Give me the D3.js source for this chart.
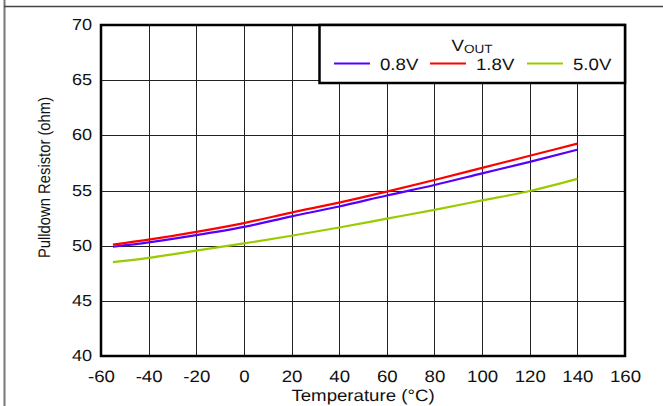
<!DOCTYPE html>
<html><head><meta charset="utf-8">
<script src="https://cdn.jsdelivr.net/npm/d3@7"></script>
<style>
body{margin:0;background:#fff;}
svg{display:block;font-family:"Liberation Sans",Arial,sans-serif;}
svg text{text-rendering:geometricPrecision;font-weight:400;}
</style></head>
<body><svg id="c" width="663" height="406"></svg>
<script>
const temps = [-55,-40,-20,0,20,40,60,80,100,120,140];
const v08 = [49.9,50.3,50.95,51.7,52.65,53.55,54.55,55.5,56.55,57.6,58.7];
const v18 = [50.1,50.55,51.25,52.05,53.0,53.9,54.9,55.95,57.05,58.15,59.25];
const v50 = [48.5,48.9,49.55,50.2,50.9,51.65,52.45,53.25,54.1,54.95,56.05];
const seriesNames = ["0.8V","1.8V","5.0V"];
const seriesColors = ["#5500ff","#ff0000","#99cc00"];
const xTicks = [-60,-40,-20,0,20,40,60,80,100,120,140,160];
const yTicks = [40,45,50,55,60,65,70];

const svg = d3.select("#c");
const L=101,R=625,T=25,B=356;
const SX=1.13;
const x = d3.scaleLinear().domain([-60,160]).range([L,R]);
const y = d3.scaleLinear().domain([40,70]).range([B,T]);

// outer frame
svg.append("line").attr("x1",4.5).attr("x2",4.5).attr("y1",0).attr("y2",406).attr("stroke","#777").attr("stroke-width",2);
svg.append("line").attr("x1",4).attr("x2",663).attr("y1",6.5).attr("y2",6.5).attr("stroke","#444").attr("stroke-width",1.5);

// grid
const g = svg.append("g");
g.selectAll(".vx").data(xTicks).enter().append("line")
  .attr("x1",d=>Math.round(x(d))+0.5).attr("x2",d=>Math.round(x(d))+0.5)
  .attr("y1",T).attr("y2",B).attr("stroke","#222").attr("stroke-width",1);
g.selectAll(".hy").data(yTicks).enter().append("line")
  .attr("y1",d=>Math.round(y(d))+0.5).attr("y2",d=>Math.round(y(d))+0.5)
  .attr("x1",L).attr("x2",R).attr("stroke","#222").attr("stroke-width",1);

// series
const allSeries=[v08,v18,v50];
const line = d3.line().x((d,i)=>x(temps[i])).y(d=>y(d)).curve(d3.curveMonotoneX);
allSeries.forEach((s,k)=>{
  svg.append("path").datum(s).attr("d",line).attr("fill","none")
    .attr("stroke",seriesColors[k]).attr("stroke-width",2.2);
});

// plot border
svg.append("rect").attr("x",L).attr("y",T).attr("width",R-L).attr("height",B-T)
  .attr("fill","none").attr("stroke","#000").attr("stroke-width",2.5);

// axes labels
const xAxis = d3.axisBottom(x).tickValues(xTicks).tickSize(0).tickPadding(0).tickFormat(d=>String(d));
const xg = svg.append("g").attr("transform",`translate(0,${B})`).call(xAxis);
xg.select(".domain").remove();
xg.selectAll("text").attr("font-size",16.5).attr("fill","#111").attr("dy",null).attr("y",26)
  .attr("transform",`scale(${SX},1)`)
  .attr("font-family","Liberation Sans, Arial, sans-serif");
const yAxis = d3.axisLeft(y).tickValues(yTicks).tickSize(0).tickPadding(0).tickFormat(d=>String(d));
const yg = svg.append("g").attr("transform",`translate(92,0)`).call(yAxis);
yg.select(".domain").remove();
yg.selectAll("text").attr("font-size",16).attr("fill","#111").attr("dy","0.35em").attr("x",0).attr("y",-1)
  .attr("transform",`scale(${SX},1)`)
  .attr("font-family","Liberation Sans, Arial, sans-serif");

svg.append("text").attr("transform",`translate(363,401) scale(${SX},1)`).attr("text-anchor","middle").attr("font-size",16.5).attr("fill","#111").text("Temperature (°C)");
svg.append("text").attr("transform",`translate(50,177.5) rotate(-90) scale(1,${SX})`).attr("text-anchor","middle").attr("font-size",14.8).attr("fill","#111").text("Pulldown Resistor (ohm)");

// legend
const lg = svg.append("g");
lg.append("rect").attr("x",319.5).attr("y",T).attr("width",R-319.5).attr("height",58)
  .attr("fill","#fff").attr("stroke","#000").attr("stroke-width",2.5);
const vt = lg.append("text").attr("transform",`translate(472,51) scale(${SX},1)`).attr("text-anchor","middle").attr("font-size",16.5).attr("fill","#111");
vt.append("tspan").text("V");
vt.append("tspan").attr("font-size",12).attr("dy",2).text("OUT");
const lx=[334,430,527];
seriesNames.forEach((n,k)=>{
  lg.append("line").attr("x1",lx[k]).attr("x2",lx[k]+36).attr("y1",63.5).attr("y2",63.5)
    .attr("stroke",seriesColors[k]).attr("stroke-width",2.2);
  lg.append("text").attr("transform",`translate(${lx[k]+46},70) scale(${SX},1)`).attr("font-size",16.5).attr("fill","#111").text(n);
});
</script></body></html>
